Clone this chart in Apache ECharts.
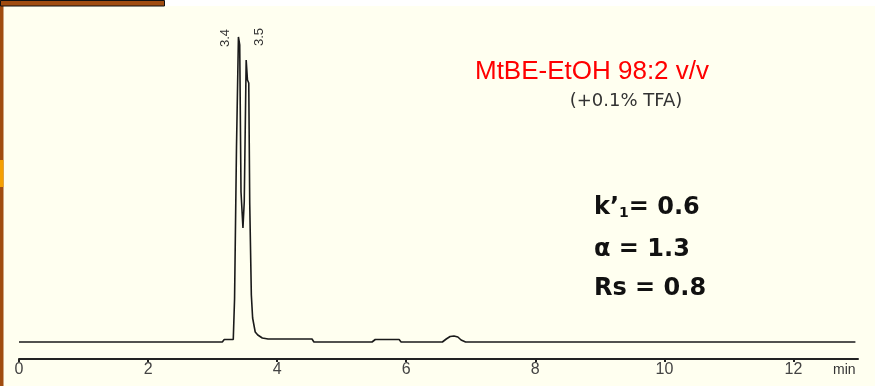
<!DOCTYPE html>
<html>
<head>
<meta charset="utf-8">
<script src="https://cdn.jsdelivr.net/npm/echarts@6/dist/echarts.min.js"></script>
<style>
html,body{margin:0;padding:0;background:#fffff0;}
#chart{width:875px;height:386px;}
</style>
</head>
<body>
<div id="chart"></div>
<script>
// Retention time (min)
const times = [0, 3.15, 3.18, 3.32, 3.34, 3.36, 3.37, 3.40, 3.42, 3.44, 3.47, 3.49, 3.52, 3.54, 3.56, 3.575, 3.60, 3.62, 3.66, 3.70, 3.77, 3.86, 4.54, 4.57, 5.47, 5.52, 5.89, 5.92, 6.56, 6.62, 6.68, 6.74, 6.80, 6.85, 6.92, 12.96];
// Detector signal (arbitrary units)
const signal = [0, 0, 2.5, 2.5, 43, 43, 195, 305, 297, 150, 114, 140, 282, 262, 259, 139, 47, 24, 10, 7, 4, 3, 3, 0, 0, 2.5, 2.5, 0, 0, 3, 5.5, 6, 5, 2, 0, 0];
// Peak annotations
const peakTimes = [3.40, 3.52];
const peakHeights = [305, 282];
const peakLabels = ['3.4', '3.5'];
// Axis ticks
const xTickValues = [0, 2, 4, 6, 8, 10, 12];
const xUnit = 'min';
const titleText = 'MtBE-EtOH 98:2 v/v';
const subtitleText = '(+0.1% TFA)';
const statK = '0.6', statAlpha = '1.3', statRs = '0.8';

const chart = echarts.init(document.getElementById('chart'));
const baseGraphics = [
  {type: 'rect', shape: {x: 165, y: 0, width: 710, height: 6}, style: {fill: '#ffffff'}, z: 10},
  {type: 'rect', shape: {x: 0, y: 0, width: 3.5, height: 386}, style: {fill: '#a04c10'}, z: 10},
  {type: 'rect', shape: {x: 0, y: 160, width: 3.5, height: 27}, style: {fill: '#f5a000'}, z: 11},
  {type: 'rect', shape: {x: 0.5, y: 0.5, width: 164, height: 5.5}, style: {fill: '#a04c10', stroke: '#111', lineWidth: 1}, z: 11},
  {type: 'text', x: 592, y: 72, z: 20,
    style: {text: titleText, fill: '#ff0000', font: '26px "Liberation Sans"', textAlign: 'center', textVerticalAlign: 'middle'}},
  {type: 'text', x: 626, y: 101, z: 20,
    style: {text: subtitleText, fill: '#333', font: '18px "DejaVu Sans"', textAlign: 'center', textVerticalAlign: 'middle'}},
  {type: 'text', x: 594, y: 208, z: 20,
    style: {text: '{a|k’}{b|1}{a|= ' + statK + '}', textVerticalAlign: 'middle', fill: '#111',
      rich: {a: {fontSize: 24, fontWeight: 'bold', fontFamily: 'DejaVu Sans', fill: '#111'},
             b: {fontSize: 14, fontWeight: 'bold', fontFamily: 'DejaVu Sans', fill: '#111', verticalAlign: 'bottom', padding: [6, 0, 0, 0]}}}},
  {type: 'text', x: 594, y: 250, z: 20,
    style: {text: 'α = ' + statAlpha, fill: '#111', font: 'bold 24px "DejaVu Sans"', textVerticalAlign: 'middle'}},
  {type: 'text', x: 594, y: 289, z: 20,
    style: {text: 'Rs = ' + statRs, fill: '#111', font: 'bold 24px "DejaVu Sans"', textVerticalAlign: 'middle'}},
  {type: 'text', x: 833, y: 370, z: 20,
    style: {text: xUnit, fill: '#333', font: '14px "Liberation Sans"', textVerticalAlign: 'middle'}}
];
const option = {
  backgroundColor: '#fffff0',
  animation: false,
  grid: {left: 19, right: 17, top: 22, bottom: 27},
  xAxis: {
    type: 'value', min: 0, max: 13,
    axisLine: {onZero: false, lineStyle: {color: '#222', width: 2}},
    axisTick: {show: true, length: 3, customValues: xTickValues, lineStyle: {color: '#222', width: 2}},
    axisLabel: {customValues: xTickValues, color: '#444', fontSize: 16, fontFamily: 'Liberation Sans', margin: 3},
    splitLine: {show: false}
  },
  yAxis: {type: 'value', min: -17, max: 320, show: false, splitLine: {show: false}},
  series: [
    {
      type: 'line',
      data: times.map((t, i) => [t, signal[i]]),
      showSymbol: false, symbol: 'none',
      lineStyle: {color: '#1a1a1a', width: 1.6},
      silent: true
    }
  ],
  graphic: baseGraphics
};
chart.setOption(option);
// Peak labels placed through the chart's own coordinate conversion
const peakOffsets = [[-13, 1], [13, -23]];
const peakGraphics = peakTimes.map((t, i) => {
  const p = chart.convertToPixel({gridIndex: 0}, [t, peakHeights[i]]);
  return {type: 'text', x: p[0] + peakOffsets[i][0], y: p[1] + peakOffsets[i][1], rotation: Math.PI / 2, z: 20,
    style: {text: peakLabels[i], fill: '#333', font: '13px "Liberation Sans"', textAlign: 'center', textVerticalAlign: 'middle'}};
});
chart.setOption({graphic: baseGraphics.concat(peakGraphics)});
</script>
</body>
</html>
